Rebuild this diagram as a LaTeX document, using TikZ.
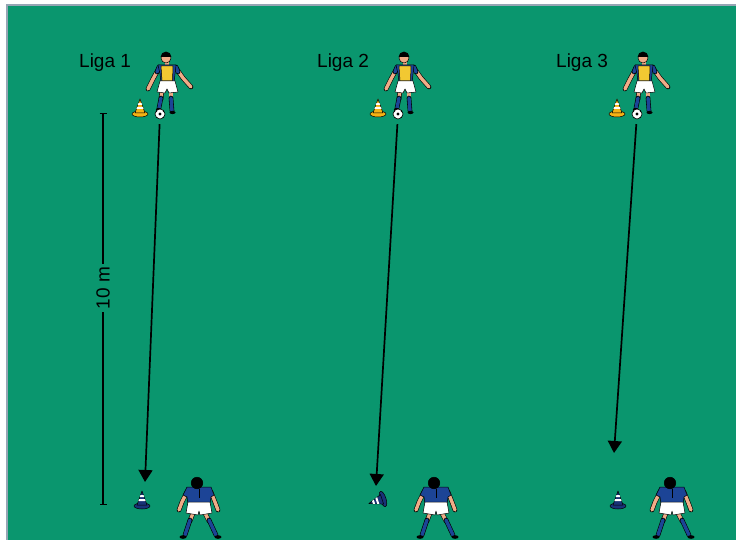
\documentclass[tikz,border=0pt]{standalone}
\usepackage{fontspec}
\setmainfont{Liberation Sans}
\usetikzlibrary{arrows.meta}

\definecolor{pitch}{RGB}{10,150,110}
\definecolor{rim}{RGB}{150,165,180}
\definecolor{kit}{RGB}{28,68,150}
\definecolor{navy}{RGB}{25,50,120}
\definecolor{skin}{RGB}{240,172,135}
\definecolor{bib}{RGB}{242,200,50}
\definecolor{amber}{RGB}{245,178,20}

\tikzset{
  outl/.style={draw=black, line width=0.5pt, line join=round},
  limb/.style={draw=black, line width=0.6pt, double=#1, double distance=3.4pt, line cap=round, line join=round},
  pass/.style={line width=1.7pt, -{Triangle[length=12pt,width=14pt]}, shorten <=5pt},
  dimline/.style={line width=1.1pt},
  liga/.style={font=\fontsize{19}{22}\selectfont, inner sep=0pt},
  % cone, base centre at the origin
  pics/cone/.style={code={
    \filldraw[outl, fill=#1] (0,0) ellipse (8 and 3);
    \filldraw[outl, fill=#1] (-5,-1) -- (0,-15) -- (5,-1) -- cycle;
    \fill[white] (-3.6,-5) -- (3.6,-5) -- (2.9,-7) -- (-2.9,-7) -- cycle;
    \fill[white] (-2.2,-9) -- (2.2,-9) -- (1.5,-11) -- (-1.5,-11) -- cycle;
  }},
  % passer, ball at the origin
  pics/kicker/.style={code={
    \draw[limb=skin] (2,-24) -- (1,-15);
    \draw[limb=kit] (1,-16) -- (-1,-6);
    \fill (-1.5,-4.5) ellipse (2.6 and 1.6);
    \draw[limb=skin] (11,-24) -- (11,-15);
    \draw[limb=kit] (11,-16) -- (12,-3);
    \fill (12.5,-1.5) ellipse (3 and 1.6);
    \draw[limb=skin] (-1,-46) -- (-7,-35) -- (-12,-25);
    \draw[limb=skin] (16,-46) -- (23,-36) -- (31,-27);
    \draw[limb=kit] (-1,-47) -- (-3,-42);
    \draw[limb=kit] (16,-47) -- (18,-42);
    \fill[skin] (5,-52) rectangle (9,-48);
    \filldraw[outl, fill=kit] (-2,-49) -- (16,-49) -- (15,-40) -- (14,-31) -- (1,-31) -- (0,-40) -- cycle;
    \filldraw[outl, fill=bib] (1,-48) -- (13,-48) -- (12.5,-33) -- (2,-33) -- cycle;
    \filldraw[outl, fill=white] (0,-33) -- (15,-33) -- (18,-22) -- (9,-21) -- (7,-25) -- (5,-21) -- (-3,-22) -- cycle;
    \filldraw[outl, fill=skin] (6,-56) circle (5);
    % hair (y runs down here, so the top half is 180..360)
    \fill (0.6,-57) arc (180:360:5.4) -- cycle;
    \node[circle, minimum size=10pt, inner sep=0pt] (-ball) at (0,0) {};
    \begin{scope}
      \clip (0,0) circle (5);
      \fill[white] (0,0) circle (5);
      \fill (0,0) circle (1.7);
      \fill (-4,-3) circle (1.4);
      \fill (4,-3) circle (1.4);
      \fill (-3,4.5) circle (1.4);
      \fill (3.5,4) circle (1.4);
    \end{scope}
    \draw[line width=0.6pt] (0,0) circle (5);
  }},
  % receiver seen from behind, head at the origin
  pics/keeper/.style={code={
    \draw[limb=skin] (-4,30) -- (-7,38);
    \draw[limb=kit] (-7,37) -- (-12,52);
    \fill (-14,54) ellipse (3.5 and 1.8);
    \draw[limb=skin] (8,30) -- (12,38);
    \draw[limb=kit] (12,37) -- (19,52);
    \fill (21,54) ellipse (3.5 and 1.8);
    \draw[limb=skin] (-10,9) -- (-15,19) -- (-18,27);
    \draw[limb=skin] (14,9) -- (18,19) -- (21,27);
    \fill[skin] (-2,3) rectangle (2,6);
    \filldraw[outl, fill=kit] (-10,4) -- (14,4) -- (17,12) -- (14,14) -- (13,21) -- (-9,21) -- (-10,14) -- (-14,12) -- cycle;
    \draw[line width=0.4pt] (2,6) -- (2,15);
    \filldraw[outl, fill=white] (-9,19) -- (13,19) -- (15,30) -- (3,32) -- (2,28) -- (1,32) -- (-11,30) -- cycle;
    \filldraw[outl, fill=black] (0,0) circle (5.8);
  }}
}

\begin{document}
\begin{tikzpicture}[x=1pt, y=-1pt]
  \useasboundingbox (0,0) rectangle (736,540);
  \fill[white] (0,0) rectangle (736,540);
  \fill[rim] (6,4) rectangle (736,540);
  \fill[pitch] (8,6) rectangle (736,540);

  % three stations: label, passer, cone, receiver and the pass
  \foreach \n/\bx/\kx/\ex/\ey in {1/160/197/145/482, 2/398/434/376/486, 3/637/670/614/453}{
    \node[liga, anchor=base west] (liga\n) at (\bx-81,68) {Liga \n};
    \pic at (\bx-20,114) {cone=amber};
    \pic (kick\n) at (\bx,114) {kicker};
    \pic (keep\n) at (\kx,483) {keeper};
    \coordinate (end\n) at (\ex,\ey);
    \draw[pass] (kick\n-ball) -- (end\n);
  }

  % target cones, the middle one knocked over
  \pic at (142,506) {cone=navy};
  \pic[rotate=108] at (383,499) {cone=navy};
  \pic at (618,506) {cone=navy};

  % distance
  \coordinate (dimtop) at (103,113);
  \coordinate (dimbot) at (103,505);
  \node[liga, rotate=90, inner sep=3pt] (dist) at (103,288) {10 m};
  \draw[dimline, {Bar[width=7pt]}-] (dimtop) -- (dist.east);
  \draw[dimline, -{Bar[width=7pt]}] (dist.west) -- (dimbot);
\end{tikzpicture}
\end{document}
